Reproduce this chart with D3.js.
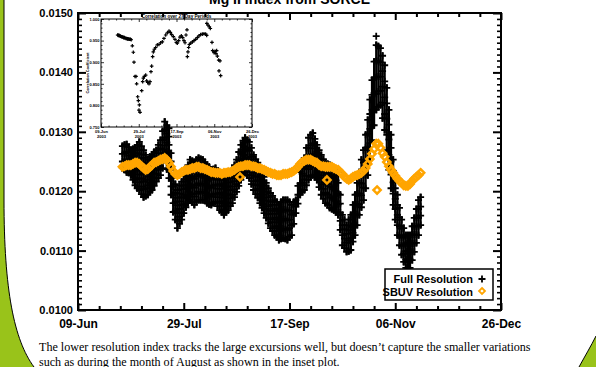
<!DOCTYPE html>
<html>
<head>
<meta charset="utf-8">
<script src="https://cdn.jsdelivr.net/npm/d3@7"></script>
<style>
  html, body { margin: 0; padding: 0; background: #fff; }
  svg { display: block; }
  .ax text { font-family: "Liberation Sans", Arial, sans-serif; font-weight: bold; fill: #000; }
  .ax line { stroke: #000; }
</style>
</head>
<body>
<div id="chart"></div>
<script>
// ---- data (days counted from 09-Jun-2003) ----
const majorDays = [0, 50, 100, 150, 200];
const yMajor = [0.0100, 0.0110, 0.0120, 0.0130, 0.0140, 0.0150];

// full resolution Mg II index: several measurements per day, days 21..162
const fullDays = d3.range(21, 163);
const fullRes = [
  [.01276,.01263,.01250,.01239],
  [.01278,.01264,.01250,.01236],
  [.01279,.01266,.01253,.01242,.01232],
  [.01274,.01260,.01246,.01231],
  [.01269,.01255,.01241,.01227],
  [.01271,.01258,.01245,.01232,.01219],
  [.01273,.01260,.01247,.01235,.01222,.01210],
  [.01278,.01264,.01250,.01235,.01220,.01205],
  [.01283,.01269,.01255,.01241,.01228,.01215,.01202],
  [.01276,.01262,.01249,.01235,.01222,.01208,.01195],
  [.01269,.01256,.01243,.01230,.01216,.01203,.01190],
  [.01261,.01247,.01233,.01219,.01205,.01192],
  [.01253,.01239,.01225,.01210,.01194],
  [.01258,.01244,.01229,.01214,.01199],
  [.01261,.01246,.01231,.01216,.01202],
  [.01266,.01252,.01238,.01223,.01209],
  [.01269,.01255,.01242,.01229,.01216],
  [.01278,.01264,.01250,.01236,.01222],
  [.01286,.01272,.01257,.01242,.01227],
  [.01301,.01286,.01270,.01254,.01239],
  [.01317,.01303,.01290,.01277,.01264,.01253],
  [.01311,.01297,.01282,.01267,.01252,.01237],
  [.01306,.01292,.01278,.01264,.01250,.01236,.01222],
  [.01264,.01250,.01236,.01222,.01208,.01194],
  [.01222,.01208,.01194,.01180,.01165],
  [.01212,.01197,.01182,.01167,.01152],
  [.01202,.01189,.01176,.01163,.01150,.01138],
  [.01209,.01196,.01183,.01170,.01157,.01145],
  [.01216,.01203,.01190,.01177,.01164,.01152],
  [.01226,.01210,.01194,.01178,.01163],
  [.01236,.01220,.01204,.01188,.01173],
  [.01244,.01231,.01218,.01205,.01192,.01180],
  [.01253,.01239,.01225,.01212,.01198,.01185],
  [.01251,.01237,.01223,.01209,.01195,.01182],
  [.01249,.01235,.01221,.01206,.01191,.01177],
  [.01253,.01239,.01225,.01210,.01196,.01182],
  [.01256,.01242,.01228,.01213,.01199,.01185],
  [.01254,.01240,.01226,.01212,.01199,.01185],
  [.01253,.01239,.01225,.01212,.01198,.01185],
  [.01249,.01236,.01223,.01210,.01197,.01184],
  [.01244,.01231,.01218,.01205,.01192,.01180],
  [.01241,.01225,.01209,.01193,.01178],
  [.01236,.01221,.01206,.01191,.01177],
  [.01237,.01223,.01209,.01194,.01180],
  [.01239,.01225,.01211,.01196,.01182],
  [.01234,.01219,.01204,.01190,.01175],
  [.01227,.01212,.01197,.01183,.01168],
  [.01224,.01209,.01194,.01180,.01165],
  [.01219,.01204,.01189,.01175,.01160],
  [.01221,.01207,.01193,.01179,.01165],
  [.01222,.01208,.01195,.01181,.01168],
  [.01229,.01215,.01202,.01188,.01175],
  [.01236,.01222,.01208,.01194,.01180],
  [.01244,.01230,.01217,.01203,.01190],
  [.01253,.01239,.01226,.01212,.01199],
  [.01266,.01252,.01238,.01223,.01209],
  [.01278,.01263,.01248,.01234,.01219],
  [.01285,.01270,.01255,.01241,.01226],
  [.01290,.01275,.01261,.01246,.01232],
  [.01286,.01271,.01256,.01242,.01227],
  [.01283,.01268,.01253,.01237,.01222],
  [.01273,.01258,.01243,.01227,.01212],
  [.01261,.01246,.01231,.01217,.01202],
  [.01254,.01239,.01224,.01210,.01195],
  [.01248,.01233,.01218,.01204,.01189],
  [.01241,.01226,.01211,.01195,.01180],
  [.01232,.01217,.01202,.01187,.01172],
  [.01224,.01209,.01194,.01178,.01163],
  [.01214,.01199,.01184,.01170,.01155],
  [.01205,.01190,.01175,.01161,.01146],
  [.01197,.01182,.01167,.01153,.01138],
  [.01192,.01177,.01162,.01148,.01133],
  [.01185,.01170,.01155,.01141,.01126],
  [.01182,.01167,.01152,.01138,.01123],
  [.01177,.01162,.01147,.01133,.01118],
  [.01182,.01166,.01151,.01135,.01120],
  [.01185,.01169,.01153,.01137,.01121],
  [.01185,.01169,.01153,.01136,.01120],
  [.01185,.01168,.01151,.01135,.01118],
  [.01182,.01167,.01152,.01138,.01123],
  [.01177,.01160,.01143,.01126],
  [.01182,.01163,.01145],
  [.01185,.01174,.01163],
  [.01209,.01194,.01179],
  [.01232,.01213,.01194],
  [.01244,.01229,.01214,.01199],
  [.01256,.01238,.01220,.01202],
  [.01273,.01257,.01241,.01226,.01210],
  [.01290,.01272,.01254,.01237,.01219],
  [.01295,.01277,.01259,.01242,.01224],
  [.01298,.01280,.01262,.01245,.01227],
  [.01288,.01272,.01256,.01240,.01224],
  [.01278,.01263,.01248,.01234,.01219],
  [.01269,.01254,.01238,.01223,.01207],
  [.01261,.01244,.01227,.01211,.01194],
  [.01254,.01237,.01220,.01204,.01187],
  [.01248,.01231,.01214,.01197,.01180],
  [.01246,.01229,.01212,.01194,.01177],
  [.01244,.01226,.01208,.01190,.01172],
  [.01242,.01224,.01206,.01188,.01170],
  [.01239,.01221,.01203,.01186,.01168],
  [.01236,.01218,.01200,.01183,.01165],
  [.01232,.01214,.01196,.01178,.01160],
  [.01194,.01179,.01164,.01150,.01135],
  [.01160,.01143,.01126,.01109],
  [.01152,.01136,.01120,.01104],
  [.01143,.01128,.01113,.01098],
  [.01152,.01134,.01117,.01099],
  [.01160,.01140,.01121,.01101],
  [.01177,.01161,.01146,.01130,.01115],
  [.01194,.01177,.01160,.01143,.01126],
  [.01214,.01196,.01178,.01161,.01143],
  [.01232,.01214,.01196,.01178,.01160],
  [.01253,.01233,.01213,.01193,.01173],
  [.01269,.01248,.01227,.01206,.01185],
  [.01295,.01273,.01250,.01228,.01205],
  [.01320,.01297,.01274,.01250,.01227],
  [.01354,.01330,.01305,.01281,.01256],
  [.01387,.01362,.01337,.01311,.01286],
  [.01418,.01391,.01365,.01338,.01311],
  [.01446,.01419,.01392,.01364,.01337],
  [.01444,.01419,.01393,.01368,.01342],
  [.01441,.01417,.01393,.01369,.01345],
  [.01428,.01402,.01376,.01349,.01323],
  [.01412,.01385,.01358,.01330,.01303],
  [.01374,.01348,.01322,.01295,.01269],
  [.01337,.01312,.01287,.01261,.01236],
  [.01295,.01273,.01250,.01228,.01205],
  [.01253,.01234,.01215,.01196,.01177],
  [.01222,.01205,.01187,.01170,.01152],
  [.01194,.01177,.01160,.01143,.01126],
  [.01172,.01156,.01141,.01125,.01109],
  [.01152,.01137,.01122,.01108,.01093],
  [.01138,.01124,.01110,.01095,.01081],
  [.01126,.01112,.01099,.01085,.01071],
  [.01126,.01112,.01099,.01085,.01071],
  [.01126,.01112,.01099,.01085,.01071],
  [.01141,.01127,.01112,.01098,.01084],
  [.01155,.01141,.01127,.01112,.01098],
  [.01170,.01156,.01141,.01127,.01113],
  [.01185,.01170,.01155,.01141,.01126],
  [.01190,.01174,.01159,.01143]
];
// isolated full-resolution points
const fullExtraDays = [141];
const fullExtraVals = [.01461];

// SBUV resolution index, one value per day, days 21..162
const sbuvDays = d3.range(21, 163);
const sbuvRes = [
  .01241,.01242,.01244,.01244,.01244,.01246,.01248,.01248,.01246,.01242,
  .01239,.01236,.01237,.01241,.01244,.01248,.01249,.01251,.01253,.01254,
  .01256,.01253,.01248,.01241,.01234,.01229,.01227,.01229,.01232,.01234,
  .01236,.01236,.01237,.01239,.01239,.01241,.01241,.01239,.01239,.01237,
  .01236,.01234,.01232,.01232,.01231,.01231,.01231,.01229,.01231,.01231,
  .01232,.01232,.01234,.01236,.01239,.01241,.01242,.01242,.01244,.01244,
  .01244,.01242,.01242,.01241,.01239,.01239,.01237,.01236,.01234,.01232,
  .01231,.01229,.01229,.01227,.01227,.01227,.01229,.01229,.01229,.01231,
  .01232,.01234,.01237,.01241,.01246,.01249,.01251,.01253,.01253,.01253,
  .01251,.01249,.01248,.01244,.01242,.01242,.01241,.01241,.01241,.01241,
  .01239,.01237,.01236,.01232,.01229,.01224,.01221,.01219,.01221,.01224,
  .01226,.01227,.01229,.01231,.01234,.01239,.01246,.01254,.01263,.01271,
  .01280,.01280,.01273,.01264,.01258,.01249,.01242,.01236,.01231,.01226,
  .01221,.01217,.01214,.01210,.01209,.01209,.01212,.01217,.01221,.01224,
  .01227,.01231
];
const sbuvExtraDays = [76.6, 117.7, 141.4];
const sbuvExtraVals = [.01224, .01219, .01202];

// inset: correlation over 27 day periods
const insetDays = [22,23,24,25,26,27,28,29,30,31,32,33,34,35,36,37,38,39,40,
  41.5,42.8,43.7,45,46.4,47.2,48.6,49.5,50.3,50.8,51.7,
  53.9,55.2,56.1,57.4,59.2,60.5,61.8,63.6,64.9,
  66.2,67.1,68.4,69.3,70.6,72.4,74.6,76.8,79,81.2,83.4,85.7,87.9,90.1,91.8,93.6,95.8,98,99.8,101.1,102.9,104.6,106.4,108.2,109.9,111.3,112.6,113.9,
  114.4,115.2,116.1,117,118.8,121,123.2,125.4,127.6,129.8,132,134.2,136.4,138.6,140,
  140.2,141.7,143.5,144.8,
  147,147.9,149.7,151,152.3,153.2,154.1,155.9,156.3,157.6,158.5];
const insetCorr = [.963,.962,.962,.961,.960,.959,.959,.958,.957,.957,.956,.955,.955,.954,.954,.953,.953,.953,.952,
  .938,.923,.900,.867,.867,.850,.820,.811,.789,.801,.784,
  .834,.855,.863,.867,.870,.857,.853,.850,.855,
  .878,.891,.913,.924,.930,.934,.940,.941,.945,.947,.955,.963,.968,.972,.969,.964,.959,.953,.946,.944,.950,.958,.961,.957,.950,.945,.963,.975,
  .913,.924,.934,.941,.944,.947,.950,.953,.957,.961,.964,.965,.966,.965,.962,
  .990,.986,.982,.978,
  .946,.927,.922,.925,.920,.927,.914,.905,.880,.903,.869];
const insetYTicks = [0.75, 0.80, 0.85, 0.90, 0.95, 1.00];

const legendLabels = ['Full Resolution', 'SBUV Resolution'];
const caption = [
  'The lower resolution index tracks the large excursions well, but doesn\u2019t capture the smaller variations',
  'such as during the month of August as shown in the inset plot.'
];

// ---- setup ----
const W = 596, H = 367;
const ORANGE = '#ffa500';
const GREEN = '#99c31a';
const t0 = Date.UTC(2003, 5, 9);
const day = d => new Date(t0 + d * 864e5);
const fmt = d3.utcFormat('%d-%b');

const svg = d3.select('#chart').append('svg').attr('width', W).attr('height', H);

// slide decoration
svg.append('path')
  .attr('d', 'M0,0 L4,0 L4,200 C4,290 14,340 34,367 L0,367 Z')
  .attr('fill', GREEN);
svg.append('path')
  .attr('d', 'M4,0 L4,200 C4,290 14,340 34,367')
  .attr('fill', 'none').attr('stroke', '#000').attr('stroke-width', 1);
svg.append('path')
  .attr('d', 'M579,367 C585,356 591,346 596,336 L596,367 Z')
  .attr('fill', GREEN);
svg.append('path')
  .attr('d', 'M579,367 C585,356 591,346 596,336')
  .attr('fill', 'none').attr('stroke', '#000').attr('stroke-width', 1);

const x = d3.scaleUtc().domain([day(0), day(200)]).range([78, 501]);
const y = d3.scaleLinear().domain([0.010, 0.015]).range([310, 13]);

const minorDays = d3.range(0, 201, 10).filter(d => d % 50 !== 0);
const yMinor = d3.range(100, 151).map(v => v / 10000).filter((v, i) => i % 10 !== 0);

function addAxis(axis, tx, ty, width) {
  const g = svg.append('g').attr('class', 'ax')
    .attr('transform', `translate(${tx},${ty})`).call(axis);
  g.select('.domain').remove();
  g.selectAll('line').attr('stroke-width', width);
  return g;
}

// bottom / top
addAxis(d3.axisBottom(x).tickValues(majorDays.map(day)).tickSize(-7).tickPadding(9).tickFormat(fmt), 0, 310, 2)
  .selectAll('text').style('font-size', '12px');
addAxis(d3.axisBottom(x).tickValues(minorDays.map(day)).tickSize(-4).tickFormat(''), 0, 310, 2);
addAxis(d3.axisTop(x).tickValues(majorDays.map(day)).tickSize(-7).tickFormat(''), 0, 13, 2);
addAxis(d3.axisTop(x).tickValues(minorDays.map(day)).tickSize(-4).tickFormat(''), 0, 13, 2);
// left / right
addAxis(d3.axisLeft(y).tickValues(yMajor).tickSize(-8).tickPadding(5).tickFormat(d3.format('.4f')), 78, 0, 2)
  .selectAll('text').style('font-size', '11px');
addAxis(d3.axisLeft(y).tickValues(yMinor).tickSize(-4).tickFormat(''), 78, 0, 1.6);
addAxis(d3.axisRight(y).tickValues(yMajor).tickSize(-8).tickFormat(''), 501, 0, 2);
addAxis(d3.axisRight(y).tickValues(yMinor).tickSize(-4).tickFormat(''), 501, 0, 1.6);

svg.append('rect').attr('x', 78).attr('y', 13).attr('width', 423).attr('height', 297)
  .attr('fill', 'none').attr('stroke', '#000').attr('stroke-width', 2);

svg.append('text').attr('x', 289.5).attr('y', 4).attr('text-anchor', 'middle')
  .style('font-family', '"Liberation Sans", Arial, sans-serif').style('font-weight', 'bold')
  .style('font-size', '14px').text('Mg II Index from SORCE');

// ---- inset ----
const ix = d3.scaleUtc().domain([day(0), day(200)]).range([101, 252]);
const iy = d3.scaleLinear().domain([0.75, 1.0]).range([127, 19]);
const inset = svg.append('g');
inset.append('rect').attr('x', 101).attr('y', 19).attr('width', 151).attr('height', 108)
  .attr('fill', '#fff').attr('stroke', '#000').attr('stroke-width', 1);

function addInsetAxis(axis, tx, ty) {
  const g = inset.append('g').attr('class', 'ax')
    .attr('transform', `translate(${tx},${ty})`).call(axis);
  g.select('.domain').remove();
  g.selectAll('line').attr('stroke-width', 0.8);
  g.selectAll('text').style('font-size', '4px');
  return g;
}
const iyMinor = d3.range(75, 101).map(v => v / 100).filter((v, i) => i % 5 !== 0);
addInsetAxis(d3.axisLeft(iy).tickValues(insetYTicks).tickSize(-3).tickPadding(1.5).tickFormat(d3.format('.3f')), 101, 0);
addInsetAxis(d3.axisLeft(iy).tickValues(iyMinor).tickSize(-1.5).tickFormat(''), 101, 0);
addInsetAxis(d3.axisRight(iy).tickValues(insetYTicks).tickSize(-3).tickFormat(''), 252, 0);
addInsetAxis(d3.axisRight(iy).tickValues(iyMinor).tickSize(-1.5).tickFormat(''), 252, 0);
addInsetAxis(d3.axisTop(ix).tickValues(majorDays.map(day)).tickSize(-3).tickFormat(''), 0, 19);
addInsetAxis(d3.axisTop(ix).tickValues(minorDays.map(day)).tickSize(-1.5).tickFormat(''), 0, 19);
addInsetAxis(d3.axisBottom(ix).tickValues(minorDays.map(day)).tickSize(-1.5).tickFormat(''), 0, 127);
const ixb = addInsetAxis(d3.axisBottom(ix).tickValues(majorDays.map(day)).tickSize(-3).tickPadding(3.5).tickFormat(fmt), 0, 127);
ixb.selectAll('.tick').append('text')
  .attr('y', 8).attr('dy', '0.71em').attr('text-anchor', 'middle')
  .style('font-size', '4px').text(d => d3.utcFormat('%Y')(d));

inset.append('text').attr('x', 176.5).attr('y', 17.5).attr('text-anchor', 'middle')
  .style('font-family', '"Liberation Sans", Arial, sans-serif').style('font-weight', 'bold')
  .style('font-size', '4.6px').text('Correlation over 27 Day Periods');
inset.append('text').attr('transform', 'translate(89,73) rotate(-90)').attr('text-anchor', 'middle')
  .style('font-family', '"Liberation Sans", Arial, sans-serif').style('font-weight', 'bold')
  .style('font-size', '3.8px').text('Correlation Coefficient');

const smallPlus = 'M-1.8,0H1.8M0,-1.8V1.8';
inset.append('g').selectAll('path')
  .data(insetDays.map((d, i) => [d, insetCorr[i]]))
  .join('path')
  .attr('d', smallPlus)
  .attr('transform', d => `translate(${ix(day(d[0]))},${iy(d[1])})`)
  .attr('stroke', '#000').attr('stroke-width', 1.2).attr('fill', 'none');

// ---- main data ----
const plus = 'M-3.5,0H3.5M0,-3.5V3.5';
const diamond = 'M0,-3.6L3.6,0L0,3.6L-3.6,0Z';

// the vertical arms of each day's crosses run together into a solid band
svg.append('g').selectAll('line')
  .data(fullDays.map((d, i) => [d, d3.min(fullRes[i]), d3.max(fullRes[i])]))
  .join('line')
  .attr('x1', d => x(day(d[0]))).attr('x2', d => x(day(d[0])))
  .attr('y1', d => y(d[2]) - 3.5).attr('y2', d => y(d[1]) + 3.5)
  .attr('stroke', '#000').attr('stroke-width', 2.2);

const fullPts = [];
fullDays.forEach((d, i) => fullRes[i].forEach(v => fullPts.push([d, v])));
fullExtraDays.forEach((d, i) => fullPts.push([d, fullExtraVals[i]]));
svg.append('g').selectAll('path')
  .data(fullPts)
  .join('path')
  .attr('d', plus)
  .attr('transform', d => `translate(${x(day(d[0]))},${y(d[1])})`)
  .attr('stroke', '#000').attr('stroke-width', 1.8).attr('fill', 'none');

const sbuvPts = sbuvDays.map((d, i) => [d, sbuvRes[i]])
  .concat(sbuvExtraDays.map((d, i) => [d, sbuvExtraVals[i]]));
svg.append('g').selectAll('path')
  .data(sbuvPts)
  .join('path')
  .attr('d', diamond)
  .attr('transform', d => `translate(${x(day(d[0]))},${y(d[1])})`)
  .attr('stroke', ORANGE).attr('stroke-width', 2.5).attr('fill', 'none');

// ---- legend ----
const lg = svg.append('g');
lg.append('rect').attr('x', 385).attr('y', 269).attr('width', 108).attr('height', 31)
  .attr('fill', '#fff').attr('stroke', '#000').attr('stroke-width', 1.5);
lg.selectAll('text').data(legendLabels).join('text')
  .attr('x', 473).attr('y', (d, i) => 283 + i * 12.5).attr('text-anchor', 'end')
  .style('font-family', '"Liberation Sans", Arial, sans-serif').style('font-weight', 'bold')
  .style('font-size', '11px').text(d => d);
lg.append('path').attr('d', plus).attr('transform', 'translate(482,279)')
  .attr('stroke', '#000').attr('stroke-width', 1.8).attr('fill', 'none');
lg.append('path').attr('d', 'M0,-3L3,0L0,3L-3,0Z').attr('transform', 'translate(482,291)')
  .attr('stroke', ORANGE).attr('stroke-width', 1.8).attr('fill', 'none');

// ---- caption ----
svg.append('g').selectAll('text').data(caption).join('text')
  .attr('x', 39).attr('y', (d, i) => 351 + i * 14.5)
  .style('font-family', '"Liberation Serif", "Times New Roman", serif')
  .style('font-size', '12.1px').text(d => d);
</script>
</body>
</html>
